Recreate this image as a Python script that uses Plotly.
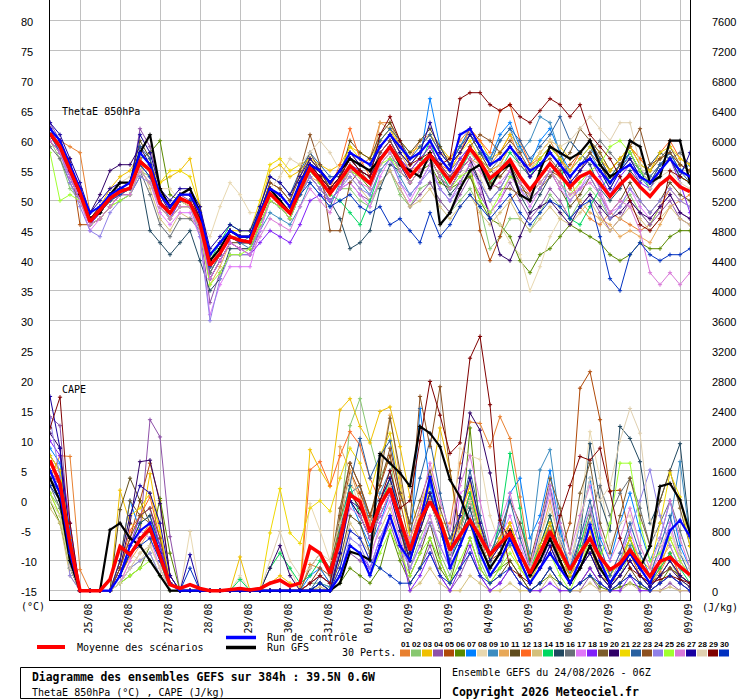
import plotly.graph_objects as go

# ---------------- data ----------------
HOURS = list(range(0, 385, 6))  # forecast hours from 24/08 06Z
DATES = ["25/08", "26/08", "27/08", "28/08", "29/08", "30/08", "31/08", "01/09",
         "02/09", "03/09", "04/09", "05/09", "06/09", "07/09", "08/09", "09/09"]
DATE_HOURS = [18, 42, 66, 90, 114, 138, 162, 186, 210, 234, 258, 282, 306, 330, 354, 378]
THETA_TICKS = [-15, -10, -5, 0, 5, 10, 15, 20, 25, 30, 35, 40, 45, 50, 55, 60, 65, 70, 75, 80]
CAPE_TICKS = [0, 400, 800, 1200, 1600, 2000, 2400, 2800, 3200, 3600, 4000, 4400, 4800,
              5200, 5600, 6000, 6400, 6800, 7200, 7600]
MEMBER_LABELS = ["01", "02", "03", "04", "05", "06", "07", "08", "09", "10",
                 "11", "12", "13", "14", "15", "16", "17", "18", "19", "20",
                 "21", "22", "23", "24", "25", "26", "27", "28", "29", "30"]
COLORS = ["#e88030", "#88c870", "#f0c000", "#8e50a8", "#b04a08", "#5a8a00", "#0080ff",
          "#e8d8b0", "#3c8cc0", "#e8a858", "#604c1c", "#ff6820", "#d4c07c", "#00d860",
          "#204860", "#687078", "#e078f8", "#8020f8", "#7c5c2c", "#300068", "#f0d800",
          "#2860a0", "#8c5020", "#9080e8", "#a0ff30", "#d878d8", "#1800a0", "#e0d0b0",
          "#800000", "#0030c0"]

# ThetaE 850 hPa (degC)
MEAN_T = [61.2, 59.0, 55.1, 51.3, 46.5, 48.4, 50.4, 51.5, 52.1, 56.5,
          55.1, 49.6, 47.9, 50.4, 49.6, 46.2, 39.2, 41.2, 44.0, 43.4,
          43.1, 47.3, 51.2, 49.5, 47.9, 51.8, 55.4, 53.4, 51.2, 53.4,
          55.8, 54.3, 52.9, 56.8, 59.0, 56.5, 54.0, 55.9, 57.6, 55.4,
          53.2, 55.7, 58.7, 56.5, 53.7, 55.1, 56.8, 54.0, 51.8, 54.0,
          56.2, 54.3, 52.3, 54.0, 54.8, 52.9, 50.7, 52.7, 54.3, 52.3,
          50.7, 52.7, 54.0, 52.3, 51.5]
CTL_T = [62, 60, 56, 52, 48, 49, 51, 52, 53, 58,
         56, 51, 49, 51, 51, 48, 41, 43, 45, 44,
         44, 48, 52, 51, 49, 53, 56, 55, 53, 55,
         58, 57, 56, 59, 61, 59, 57, 58, 60, 57,
         55, 61, 62, 59, 56, 57, 59, 57, 55, 56,
         58, 56, 54, 56, 57, 55, 53, 55, 56, 54,
         53, 55, 57, 55, 54]
GFS_T = [61, 59, 55, 51, 47, 48, 51, 53, 53, 58,
         61, 52, 49, 51, 52, 48, 40, 42, 45, 44,
         44, 48, 52, 50, 48, 53, 56, 55, 53, 55,
         57, 56, 55, 57, 59, 56, 55, 54, 58, 46,
         48, 52, 55, 56, 52, 55, 56, 51, 50, 55,
         59, 58, 57, 58, 60, 56, 54, 55, 60, 59,
         53, 54, 60, 60, 53]
T01 = [62, 60, 59, 58, 48, 49, 51, 52, 53, 58, 56, 51, 49, 51, 51, 47, 40, 42, 45, 44,
       44, 48, 52, 51, 49, 53, 57, 55, 52, 54, 58, 56, 57, 63, 63, 59, 57, 60, 61, 58,
       57, 60, 62, 59, 56, 58, 61, 57, 55, 58, 60, 57, 54, 49, 47, 46, 48, 47, 46, 45,
       46, 49, 52, 50, 51]
T02 = [60, 57, 52, 50, 46, 47, 49, 50, 51, 55, 54, 49, 47, 49, 49, 45, 37, 40, 43, 42,
       42, 46, 50, 49, 47, 51, 54, 52, 50, 52, 52, 50, 49, 53, 55, 51, 49, 52, 53, 50,
       48, 50, 52, 49, 42, 44, 47, 47, 45, 48, 51, 49, 47, 50, 52, 50, 47, 49, 51, 48,
       46, 49, 51, 48, 47]
T03 = [61, 59, 56, 52, 47, 49, 52, 54, 55, 58, 56, 53, 54, 55, 57, 49, 41, 43, 45, 44,
       44, 49, 55, 56, 54, 55, 57, 56, 55, 56, 59, 58, 57, 60, 62, 60, 58, 59, 61, 59,
       57, 59, 62, 60, 57, 58, 61, 59, 56, 58, 60, 59, 57, 58, 60, 58, 55, 57, 59, 57,
       55, 57, 58, 56, 55]
T04 = [63, 60, 56, 52, 46, 48, 50, 51, 52, 62, 59, 52, 48, 51, 50, 45, 33, 38, 41, 41,
       41, 45, 50, 49, 47, 51, 55, 53, 50, 52, 53, 51, 50, 53, 55, 52, 49, 51, 53, 50,
       48, 51, 54, 51, 48, 50, 53, 50, 47, 49, 52, 50, 47, 49, 51, 48, 45, 47, 50, 48,
       46, 48, 50, 47, 46]
T05 = [60, 58, 57, 46, 46, 47, 49, 51, 52, 56, 55, 50, 48, 50, 49, 46, 38, 41, 44, 43,
       43, 47, 51, 50, 48, 52, 55, 53, 51, 53, 56, 54, 53, 57, 59, 56, 54, 56, 57, 54,
       52, 55, 57, 45, 40, 44, 50, 52, 51, 53, 55, 54, 56, 58, 60, 57, 54, 56, 58, 55,
       53, 56, 57, 55, 54]
T06 = [60, 58, 55, 52, 47, 48, 50, 51, 52, 57, 58, 60, 51, 50, 49, 46, 39, 41, 44, 43,
       43, 47, 51, 50, 48, 51, 54, 52, 50, 52, 55, 54, 52, 56, 58, 55, 53, 55, 56, 53,
       52, 53, 54, 50, 47, 46, 44, 40, 38, 41, 42, 44, 46, 45, 44, 43, 41, 40, 41, 43,
       42, 42, 44, 45, 45]
T07 = [61, 59, 55, 51, 48, 49, 51, 52, 53, 57, 55, 50, 48, 50, 50, 46, 40, 42, 45, 44,
       44, 48, 52, 51, 49, 52, 56, 54, 52, 54, 57, 55, 54, 58, 60, 57, 55, 57, 67, 59,
       56, 59, 62, 59, 57, 61, 63, 59, 56, 60, 62, 58, 55, 57, 59, 56, 53, 55, 58, 55,
       54, 56, 58, 55, 56]
T08 = [59, 57, 54, 50, 47, 48, 51, 53, 54, 56, 54, 52, 52, 50, 49, 47, 44, 49, 53, 51,
       48, 48, 51, 50, 48, 52, 55, 53, 51, 53, 56, 54, 53, 56, 58, 56, 54, 55, 57, 54,
       52, 54, 56, 54, 50, 46, 43, 41, 35, 39, 44, 47, 50, 53, 55, 53, 51, 53, 54, 52,
       51, 53, 54, 52, 52]
T09 = [62, 59, 55, 51, 46, 48, 50, 52, 52, 57, 55, 50, 47, 50, 50, 46, 38, 41, 44, 43,
       42, 45, 48, 47, 46, 49, 53, 51, 49, 53, 55, 53, 51, 55, 57, 54, 51, 53, 56, 52,
       50, 53, 56, 58, 57, 60, 62, 58, 60, 64, 63, 58, 54, 56, 58, 55, 52, 55, 57, 54,
       52, 55, 57, 54, 53]
T10 = [61, 58, 54, 50, 46, 47, 49, 51, 52, 56, 54, 49, 47, 49, 49, 45, 36, 39, 43, 42,
       42, 46, 50, 49, 47, 51, 54, 53, 51, 53, 56, 55, 54, 63, 62, 58, 55, 56, 58, 55,
       53, 55, 57, 56, 53, 54, 56, 54, 52, 54, 56, 54, 52, 50, 48, 47, 46, 44, 45, 44,
       43, 46, 49, 50, 49]
T11 = [62, 60, 56, 52, 47, 48, 50, 52, 53, 60, 57, 51, 49, 50, 50, 46, 37, 40, 43, 43,
       43, 47, 51, 50, 48, 53, 57, 55, 52, 54, 60, 58, 57, 61, 63, 60, 58, 60, 62, 59,
       56, 58, 61, 58, 55, 54, 56, 53, 50, 52, 55, 52, 49, 51, 54, 51, 48, 50, 53, 50,
       48, 50, 53, 51, 50]
T12 = [61, 59, 55, 51, 47, 48, 50, 52, 52, 57, 55, 50, 48, 50, 50, 47, 40, 42, 45, 44,
       44, 48, 52, 51, 49, 53, 56, 54, 52, 56, 62, 57, 54, 58, 60, 57, 55, 57, 59, 56,
       55, 58, 62, 60, 58, 65, 66, 60, 56, 57, 59, 57, 55, 58, 60, 57, 55, 57, 59, 57,
       55, 58, 60, 57, 56]
T13 = [60, 58, 54, 51, 47, 48, 50, 51, 52, 56, 52, 47, 45, 48, 47, 46, 39, 41, 44, 44,
       44, 48, 51, 50, 48, 52, 55, 53, 51, 53, 54, 52, 50, 53, 55, 52, 49, 50, 52, 49,
       47, 49, 51, 48, 46, 48, 50, 47, 45, 47, 49, 47, 46, 48, 50, 47, 45, 47, 49, 47,
       45, 47, 49, 47, 46]
T14 = [61, 59, 55, 51, 47, 48, 50, 52, 52, 56, 54, 50, 48, 50, 50, 47, 40, 43, 46, 45,
       45, 48, 51, 50, 48, 52, 55, 53, 51, 50, 48, 46, 50, 55, 57, 56, 54, 56, 60, 55,
       52, 55, 58, 56, 53, 55, 58, 56, 54, 57, 59, 57, 47, 46, 49, 52, 54, 56, 58, 55,
       52, 55, 57, 54, 53]
T15 = [60, 58, 54, 50, 46, 47, 49, 51, 51, 54, 45, 43, 41, 43, 45, 40, 35, 37, 42, 42,
       42, 46, 50, 49, 47, 51, 54, 52, 50, 47, 42, 43, 45, 52, 56, 55, 53, 55, 57, 54,
       51, 53, 56, 53, 50, 52, 55, 51, 48, 51, 54, 57, 60, 58, 56, 52, 50, 52, 55, 53,
       56, 58, 57, 55, 54]
T16 = [59, 57, 53, 50, 46, 48, 50, 51, 52, 55, 51, 46, 44, 47, 47, 45, 38, 41, 44, 43,
       43, 47, 51, 50, 48, 52, 56, 54, 52, 54, 57, 56, 55, 59, 61, 58, 56, 58, 60, 57,
       55, 57, 59, 57, 55, 57, 59, 56, 54, 56, 58, 56, 54, 56, 58, 60, 58, 56, 57, 55,
       54, 56, 57, 58, 56]
T17 = [60, 58, 54, 50, 45, 47, 49, 51, 52, 55, 53, 48, 46, 48, 48, 44, 31, 36, 39, 39,
       39, 45, 50, 49, 47, 51, 54, 52, 50, 52, 53, 51, 49, 54, 57, 53, 50, 53, 56, 52,
       50, 53, 56, 52, 48, 50, 54, 52, 49, 52, 55, 52, 50, 52, 55, 52, 48, 49, 52, 49,
       47, 49, 51, 48, 47]
T18 = [61, 58, 54, 50, 46, 48, 51, 52, 53, 56, 54, 49, 47, 50, 50, 46, 37, 40, 43, 42,
       41, 43, 45, 44, 43, 46, 50, 51, 50, 52, 56, 55, 54, 58, 60, 57, 55, 57, 59, 56,
       54, 57, 59, 57, 55, 56, 59, 57, 54, 56, 58, 56, 53, 55, 57, 54, 51, 54, 56, 53,
       52, 55, 57, 53, 48]
T19 = [62, 60, 56, 52, 47, 49, 51, 52, 53, 58, 56, 51, 49, 51, 51, 47, 40, 42, 45, 44,
       44, 48, 53, 52, 50, 54, 58, 55, 52, 54, 57, 55, 54, 58, 60, 57, 54, 56, 58, 55,
       53, 56, 59, 57, 53, 52, 52, 51, 50, 52, 54, 56, 58, 62, 60, 58, 55, 57, 59, 56,
       55, 57, 59, 56, 55]
T20 = [62, 59, 55, 52, 48, 51, 55, 56, 56, 59, 56, 51, 48, 50, 50, 47, 41, 43, 45, 44,
       44, 48, 52, 51, 49, 53, 56, 54, 52, 54, 57, 55, 54, 57, 59, 56, 53, 55, 57, 54,
       52, 55, 57, 53, 47, 41, 40, 44, 48, 49, 50, 48, 46, 49, 51, 49, 47, 48, 50, 48,
       47, 49, 51, 48, 47]
T21 = [61, 59, 55, 51, 47, 48, 50, 51, 52, 56, 55, 53, 55, 55, 54, 49, 41, 43, 45, 45,
       45, 50, 56, 57, 55, 56, 57, 55, 53, 55, 59, 57, 56, 60, 62, 59, 56, 58, 60, 57,
       55, 58, 60, 57, 55, 56, 59, 57, 55, 57, 59, 57, 55, 57, 59, 57, 55, 57, 59, 56,
       55, 58, 59, 57, 56]
T22 = [61, 58, 55, 51, 47, 48, 50, 52, 52, 59, 57, 50, 48, 50, 50, 46, 39, 41, 44, 43,
       44, 49, 54, 53, 51, 55, 58, 56, 54, 54, 58, 57, 56, 60, 62, 60, 57, 59, 61, 58,
       56, 59, 61, 58, 56, 60, 62, 60, 57, 59, 61, 64, 60, 58, 60, 57, 54, 56, 58, 55,
       53, 56, 58, 55, 53]
T23 = [62, 60, 56, 52, 47, 48, 50, 52, 53, 58, 56, 51, 49, 50, 50, 46, 39, 41, 44, 43,
       43, 48, 53, 52, 50, 55, 61, 56, 45, 45, 53, 55, 53, 57, 59, 56, 54, 56, 58, 56,
       54, 56, 59, 61, 60, 58, 60, 58, 55, 56, 57, 55, 52, 55, 58, 56, 53, 56, 59, 62,
       56, 57, 58, 56, 55]
T24 = [63, 58, 53, 49, 45, 44, 48, 50, 51, 54, 53, 49, 47, 49, 49, 44, 30, 37, 41, 41,
       41, 46, 50, 49, 47, 51, 54, 52, 50, 52, 54, 52, 51, 55, 57, 53, 51, 53, 55, 52,
       50, 52, 55, 53, 50, 52, 55, 52, 50, 52, 55, 53, 50, 52, 54, 51, 47, 49, 52, 50,
       48, 50, 52, 50, 49]
T25 = [58, 50, 51, 50, 46, 47, 49, 50, 51, 55, 53, 49, 47, 49, 49, 45, 36, 38, 41, 41,
       42, 46, 50, 49, 47, 51, 55, 53, 51, 53, 55, 54, 53, 56, 57, 55, 53, 55, 57, 54,
       52, 54, 55, 50, 48, 51, 54, 53, 51, 53, 55, 53, 51, 53, 55, 56, 59, 60, 58, 55,
       53, 55, 57, 54, 53]
T26 = [60, 58, 54, 50, 46, 47, 49, 51, 51, 55, 53, 49, 47, 49, 49, 45, 37, 40, 43, 42,
       41, 44, 47, 46, 45, 49, 52, 50, 48, 52, 55, 53, 52, 56, 58, 55, 53, 55, 57, 54,
       52, 55, 57, 55, 52, 53, 55, 53, 51, 53, 55, 53, 51, 52, 53, 51, 48, 50, 49, 45,
       38, 36, 38, 36, 38]
T27 = [63, 61, 57, 53, 48, 50, 52, 53, 53, 61, 58, 52, 50, 52, 52, 49, 42, 44, 46, 45,
       45, 49, 54, 53, 51, 54, 57, 55, 53, 55, 58, 56, 55, 59, 61, 58, 56, 58, 63, 58,
       56, 58, 61, 59, 56, 57, 59, 57, 54, 56, 58, 56, 53, 55, 57, 55, 52, 55, 57, 54,
       53, 55, 57, 54, 58]
T28 = [61, 59, 55, 51, 47, 48, 50, 51, 52, 56, 54, 50, 48, 50, 50, 46, 39, 41, 44, 43,
       43, 48, 52, 54, 57, 56, 58, 60, 58, 55, 56, 54, 53, 57, 59, 56, 54, 56, 58, 55,
       53, 56, 58, 56, 54, 56, 57, 56, 55, 58, 60, 59, 60, 62, 64, 62, 60, 63, 63, 56,
       52, 54, 55, 53, 52]
T29 = [62, 60, 56, 52, 47, 49, 51, 52, 53, 58, 56, 51, 49, 51, 51, 47, 40, 42, 45, 44,
       44, 48, 52, 51, 49, 53, 56, 54, 52, 54, 57, 55, 54, 61, 64, 60, 56, 57, 58, 56,
       57, 67, 68, 68, 66, 65, 66, 64, 63, 65, 67, 66, 64, 66, 61, 59, 57, 54, 50, 46,
       45, 47, 55, 54, 53]
T30 = [61, 59, 55, 51, 47, 48, 50, 51, 52, 56, 54, 50, 48, 50, 50, 46, 39, 41, 44, 43,
       43, 47, 51, 50, 48, 51, 53, 51, 49, 50, 51, 49, 48, 49, 46, 47, 45, 43, 48, 44,
       46, 49, 51, 49, 47, 49, 51, 48, 46, 48, 50, 49, 47, 49, 50, 44, 37, 35, 41, 43,
       41, 40, 41, 41, 42]

# CAPE (J/kg)
MEAN_C = [1740, 1430, 630, 0, 0, 0, 150, 590, 480, 680,
          830, 450, 80, 30, 80, 30, 0, 0, 10, 30,
          10, 30, 100, 140, 60, 100, 590, 500, 230, 680,
          1280, 1190, 780, 1140, 1365, 940, 540, 940, 1190, 940,
          540, 740, 940, 720, 480, 630, 765, 500, 230, 500,
          790, 540, 280, 500, 700, 450, 280, 365, 540, 365,
          190, 390, 445, 320, 210]
CTL_C = [1600, 1300, 500, 0, 0, 0, 0, 200, 600, 800, 900, 500, 100, 0, 0, 0,
         0, 0, 0, 0, 0, 0, 0, 0, 0, 0, 0, 0, 0, 200, 600, 500, 200, 600, 1000, 600,
         400, 900, 1520, 900, 300, 600, 940, 500, 200, 400, 700, 400, 100, 300, 500, 300,
         100, 400, 880, 400, 100, 300, 500, 300, 100, 400, 800, 940, 720]
GFS_C = [1500, 1200, 400, 0, 0, 0, 810, 900, 700, 600, 400, 200, 0, 0, 0, 0,
         0, 0, 0, 0, 0, 0, 0, 0, 0, 0, 0, 0, 0, 100, 520, 480, 410, 1830, 1700, 1570,
         1390, 2190, 2100, 1920, 1480, 1250, 900, 600, 300, 500, 800, 500, 200, 400, 700, 400,
         100, 300, 600, 300, 100, 300, 500, 300, 590, 1390, 1430, 1210, 770]
C01 = [1500, 1800, 1790, 280, 0, 0, 0, 200, 450, 700, 900, 600, 100, 0, 0, 0,
       0, 0, 0, 0, 0, 0, 0, 0, 0, 0, 350, 300, 100, 800, 1400, 1300, 900, 1200, 1500, 900,
       400, 900, 1300, 900, 900, 1700, 2250, 2230, 1920, 2320, 2030, 1250, 400, 600, 900, 500,
       200, 400, 700, 300, 100, 300, 600, 300, 100, 250, 500, 200, 100]
C02 = [1300, 1100, 400, 0, 0, 0, 0, 100, 300, 400, 500, 200, 0, 0, 0, 0,
       0, 0, 0, 0, 0, 0, 0, 0, 0, 0, 100, 100, 50, 900, 2200, 2560, 2000, 1500, 1800, 800,
       300, 700, 1000, 500, 200, 600, 900, 400, 100, 300, 700, 400, 100, 500, 900, 400,
       100, 300, 600, 200, 50, 200, 500, 200, 50, 200, 400, 150, 50]
C03 = [1700, 1600, 700, 0, 0, 0, 0, 1340, 900, 800, 1560, 800, 100, 0, 0, 0,
       0, 0, 0, 450, 0, 0, 100, 200, 100, 50, 1880, 1610, 1390, 2410, 2560, 2190, 1970, 2390, 2450, 1920,
       1250, 800, 1400, 2170, 1600, 700, 900, 500, 200, 400, 600, 300, 100, 400, 700, 300,
       100, 300, 500, 200, 100, 300, 700, 400, 200, 300, 700, 400, 200]
C04 = [2320, 2200, 600, 0, 0, 0, 0, 200, 600, 800, 2280, 2050, 720, 0, 0, 0,
       0, 0, 0, 0, 0, 0, 0, 0, 0, 0, 0, 0, 0, 200, 500, 400, 300, 600, 900, 500,
       100, 300, 600, 200, 0, 200, 500, 200, 0, 100, 300, 100, 0, 100, 300, 100,
       0, 0, 200, 0, 0, 100, 200, 100, 0, 0, 100, 0, 0]
C05 = [1600, 1400, 500, 0, 0, 0, 0, 300, 700, 1200, 1700, 1200, 200, 0, 0, 0,
       0, 0, 0, 0, 0, 0, 0, 0, 0, 0, 100, 200, 100, 900, 1600, 1300, 1000, 1400, 1800, 1200,
       600, 1000, 1500, 900, 600, 900, 1300, 800, 400, 500, 800, 500, 200, 500, 900, 500,
       900, 2700, 2920, 2280, 1330, 1340, 700, 300, 100, 200, 400, 200, 100]
C06 = [1200, 900, 300, 0, 0, 0, 0, 100, 200, 300, 600, 1230, 500, 0, 0, 0,
       0, 0, 0, 0, 0, 0, 0, 0, 0, 0, 0, 0, 0, 100, 300, 200, 100, 300, 800, 400,
       100, 300, 700, 300, 100, 600, 2170, 800, 200, 300, 400, 200, 0, 100, 200, 100,
       0, 100, 200, 50, 0, 50, 100, 50, 0, 100, 300, 200, 100]
C07 = [1900, 1700, 800, 0, 0, 0, 0, 400, 1200, 800, 900, 600, 100, 0, 0, 0,
       0, 0, 0, 0, 0, 0, 0, 0, 0, 0, 200, 300, 100, 600, 1200, 900, 600, 900, 1300, 800,
       500, 2430, 1400, 800, 400, 800, 1200, 700, 300, 500, 1300, 1500, 700, 1000, 1600, 800,
       300, 900, 1500, 700, 400, 900, 1300, 800, 400, 700, 1200, 600, 300]
C08 = [1400, 1200, 500, 0, 0, 0, 0, 200, 500, 400, 600, 300, 0, 0, 790, 0,
       0, 0, 0, 200, 0, 0, 300, 500, 300, 0, 1160, 800, 400, 1000, 1500, 1100, 700, 1000, 1300, 900,
       400, 800, 1200, 800, 500, 1900, 1800, 1750, 1000, 600, 800, 500, 200, 600, 1000, 500,
       200, 1000, 2120, 1500, 600, 900, 1000, 600, 300, 500, 800, 400, 200]
C09 = [1500, 1300, 400, 0, 0, 0, 0, 200, 600, 900, 1000, 500, 100, 0, 0, 0,
       0, 0, 0, 0, 0, 0, 0, 0, 0, 0, 0, 100, 50, 700, 1300, 1400, 900, 1300, 1600, 1000,
       500, 900, 1300, 800, 400, 700, 1100, 600, 300, 1000, 600, 900, 500, 1610, 1880, 900,
       200, 500, 900, 400, 100, 300, 600, 300, 100, 400, 900, 1720, 700]
C10 = [1300, 1000, 300, 0, 0, 0, 0, 100, 400, 600, 800, 500, 100, 0, 0, 0,
       0, 0, 0, 0, 0, 0, 0, 0, 0, 0, 100, 200, 100, 1920, 1600, 1200, 900, 1600, 2340, 1500,
       700, 1000, 1200, 800, 500, 900, 1300, 700, 300, 500, 900, 500, 200, 700, 1200, 600,
       300, 600, 1000, 500, 200, 400, 700, 400, 200, 400, 600, 300, 200]
C11 = [1800, 1600, 700, 0, 0, 0, 0, 1080, 1500, 1200, 900, 500, 100, 0, 0, 0,
       0, 0, 0, 0, 0, 0, 0, 0, 0, 0, 0, 100, 0, 400, 1000, 900, 500, 1100, 1400, 900,
       200, 500, 900, 400, 100, 300, 700, 300, 100, 200, 400, 200, 0, 100, 300, 100,
       0, 100, 300, 100, 0, 100, 300, 100, 0, 100, 200, 100, 0]
C12 = [1700, 1500, 600, 0, 0, 0, 0, 300, 800, 1000, 1250, 700, 100, 0, 0, 0,
       0, 0, 0, 0, 0, 0, 0, 0, 0, 0, 1610, 1720, 1400, 1800, 2120, 1940, 1500, 1200, 1400, 900,
       500, 900, 1300, 900, 600, 1000, 1400, 800, 400, 600, 900, 500, 200, 500, 900, 400,
       200, 500, 800, 400, 100, 300, 500, 200, 100, 300, 500, 200, 100]
C13 = [1100, 900, 200, 0, 0, 0, 0, 100, 300, 500, 600, 300, 0, 0, 0, 0,
       0, 0, 0, 0, 0, 0, 0, 0, 0, 0, 0, 50, 0, 300, 900, 700, 500, 800, 1100, 700,
       0, 100, 300, 100, 0, 0, 200, 100, 0, 0, 100, 0, 0, 0, 200, 0,
       0, 0, 100, 0, 0, 0, 100, 0, 0, 0, 50, 0, 0]
C14 = [1500, 1200, 300, 0, 0, 0, 0, 200, 500, 700, 800, 400, 0, 0, 0, 0,
       0, 0, 0, 150, 0, 0, 300, 500, 300, 100, 200, 400, 300, 900, 1400, 1000, 700, 1100, 1500, 1000,
       500, 900, 1300, 900, 500, 800, 1300, 800, 400, 900, 1830, 1100, 300, 600, 1000, 500,
       200, 600, 1100, 500, 200, 400, 700, 300, 100, 300, 500, 300, 100]
C15 = [1600, 1400, 500, 0, 0, 0, 0, 200, 600, 900, 1000, 600, 100, 0, 0, 0,
       0, 0, 0, 0, 0, 0, 0, 0, 0, 0, 0, 100, 0, 600, 1200, 1000, 700, 1100, 1400, 900,
       400, 800, 1200, 800, 400, 700, 1100, 600, 300, 500, 800, 500, 200, 600, 1000, 500,
       200, 700, 1960, 1200, 800, 2190, 2030, 1720, 900, 1200, 1600, 1960, 760]
C16 = [1400, 1100, 300, 0, 0, 0, 0, 200, 500, 700, 800, 400, 0, 0, 0, 0,
       0, 0, 0, 0, 0, 0, 0, 0, 0, 0, 100, 200, 100, 700, 1300, 1100, 800, 1200, 1500, 1000,
       500, 900, 1300, 900, 500, 800, 1200, 700, 300, 500, 800, 500, 200, 500, 900, 500,
       200, 500, 1000, 1400, 1000, 1300, 1500, 1100, 600, 900, 1200, 800, 400]
C17 = [1500, 1300, 500, 0, 0, 0, 0, 100, 400, 800, 700, 300, 0, 0, 0, 0,
       0, 0, 0, 0, 0, 0, 0, 0, 0, 0, 0, 0, 0, 300, 800, 700, 400, 900, 1200, 700,
       300, 600, 1000, 600, 300, 1300, 1400, 900, 500, 700, 1000, 600, 300, 800, 1300, 700,
       300, 700, 1100, 600, 200, 500, 800, 400, 200, 500, 900, 400, 200]
C18 = [2000, 1800, 900, 0, 0, 0, 0, 200, 600, 1000, 1100, 600, 100, 0, 0, 0,
       0, 0, 0, 0, 0, 0, 0, 0, 0, 0, 0, 0, 0, 200, 600, 500, 300, 700, 1000, 600,
       0, 200, 500, 200, 0, 300, 600, 200, 0, 100, 300, 100, 0, 0, 100, 0,
       0, 100, 300, 100, 0, 0, 200, 0, 0, 100, 200, 100, 0]
C19 = [1700, 1500, 600, 0, 0, 0, 0, 400, 1200, 1000, 900, 500, 100, 0, 0, 0,
       0, 0, 0, 0, 0, 0, 0, 0, 0, 0, 300, 500, 300, 1100, 1700, 1400, 1000, 1500, 2300, 1600,
       800, 1200, 1600, 1100, 700, 1000, 1500, 900, 500, 700, 1200, 900, 400, 900, 1500, 1100,
       500, 1300, 1700, 900, 500, 1000, 1500, 1000, 600, 1200, 1600, 1100, 600]
C20 = [2100, 1900, 700, 0, 0, 0, 0, 300, 900, 1720, 1740, 1160, 200, 0, 0, 0,
       0, 0, 0, 0, 0, 0, 300, 600, 200, 0, 0, 0, 0, 500, 1200, 1000, 700, 1000, 1300, 800,
       400, 800, 1200, 800, 500, 1500, 2370, 2140, 1570, 900, 700, 400, 100, 300, 600, 300,
       100, 300, 500, 200, 50, 200, 400, 200, 50, 200, 300, 150, 50]
C21 = [1800, 1600, 700, 0, 0, 0, 0, 400, 1000, 1100, 1300, 800, 100, 0, 0, 0,
       0, 0, 0, 0, 0, 0, 770, 1360, 770, 630, 1100, 1200, 1060, 1500, 1900, 1700, 1300, 1800, 2100, 1400,
       700, 1100, 1500, 1000, 600, 1000, 1400, 800, 400, 700, 900, 500, 200, 600, 900, 500,
       200, 500, 800, 400, 200, 400, 700, 400, 300, 900, 1570, 1250, 590]
C22 = [1500, 1300, 400, 0, 0, 0, 0, 200, 500, 700, 800, 500, 100, 0, 0, 0,
       0, 0, 0, 0, 0, 0, 0, 0, 0, 0, 0, 200, 100, 800, 1400, 2030, 1500, 1800, 2000, 1300,
       900, 1500, 2000, 1300, 700, 1000, 1600, 1000, 500, 800, 1200, 700, 300, 800, 1400, 700,
       300, 700, 1200, 600, 200, 500, 900, 500, 200, 600, 1000, 500, 200]
C23 = [1600, 1400, 500, 0, 0, 0, 0, 300, 700, 1000, 1100, 700, 100, 0, 0, 0,
       0, 0, 0, 0, 0, 0, 0, 0, 0, 0, 100, 300, 200, 1000, 1700, 1400, 1000, 1400, 1900, 1300,
       900, 2590, 1920, 2720, 1600, 800, 1200, 700, 300, 500, 800, 500, 200, 400, 800, 400,
       100, 300, 600, 200, 100, 200, 400, 200, 100, 200, 300, 200, 100]
C24 = [2300, 1500, 200, 0, 0, 0, 0, 100, 300, 400, 500, 200, 0, 0, 0, 0,
       0, 0, 0, 0, 0, 0, 0, 0, 0, 0, 0, 0, 0, 200, 700, 600, 300, 700, 1000, 600,
       300, 600, 900, 600, 300, 600, 1000, 500, 200, 400, 700, 400, 100, 300, 700, 300,
       100, 300, 600, 300, 100, 400, 800, 1200, 1610, 1000, 600, 300, 200]
C25 = [1300, 1000, 300, 0, 0, 0, 0, 100, 200, 300, 400, 200, 0, 0, 0, 0,
       0, 0, 0, 0, 0, 0, 0, 0, 0, 0, 0, 0, 0, 200, 600, 500, 200, 500, 800, 500,
       200, 500, 700, 400, 100, 400, 700, 300, 100, 300, 500, 300, 100, 300, 500, 200,
       0, 300, 700, 400, 900, 1700, 1700, 900, 400, 500, 700, 400, 200]
C26 = [1600, 1400, 500, 0, 0, 0, 0, 200, 600, 800, 900, 500, 100, 0, 0, 0,
       0, 0, 0, 0, 0, 0, 0, 0, 0, 0, 100, 200, 100, 600, 1100, 1000, 700, 1000, 1300, 900,
       700, 1100, 1700, 1200, 800, 1400, 1800, 1200, 600, 900, 1300, 800, 300, 900, 1400, 900,
       500, 1000, 1400, 800, 400, 700, 1100, 600, 300, 700, 1200, 700, 300]
C27 = [2590, 1900, 300, 0, 0, 0, 0, 400, 1000, 1400, 1300, 900, 200, 0, 480, 0,
       0, 0, 0, 0, 0, 0, 0, 0, 0, 0, 0, 100, 0, 500, 1200, 1100, 800, 1200, 1500, 1000,
       500, 900, 1300, 900, 500, 1000, 1500, 900, 400, 600, 800, 400, 100, 300, 600, 300,
       100, 300, 500, 200, 50, 200, 400, 200, 50, 200, 400, 200, 100]
C28 = [1200, 1000, 300, 0, 0, 0, 0, 100, 300, 500, 600, 300, 0, 0, 0, 0,
       0, 0, 0, 0, 0, 0, 400, 790, 400, 200, 300, 500, 400, 900, 1300, 1100, 800, 1100, 1400, 1000,
       600, 900, 1200, 800, 500, 800, 1200, 700, 300, 500, 800, 500, 300, 700, 1100, 700,
       400, 900, 1500, 1200, 1400, 2000, 2430, 2100, 940, 600, 800, 500, 300]
C29 = [2170, 2580, 900, 0, 0, 0, 0, 200, 500, 700, 800, 500, 100, 0, 0, 0,
       0, 0, 0, 0, 0, 0, 0, 0, 0, 0, 100, 200, 100, 700, 1300, 1100, 800, 1200, 1600, 1100,
       1200, 2000, 2790, 2340, 1830, 1970, 3100, 3390, 2480, 940, 300, 200, 100, 300, 500, 1000,
       1400, 1790, 1740, 1900, 1320, 700, 300, 200, 100, 150, 200, 150, 100]
C30 = [1400, 1200, 400, 0, 0, 0, 0, 200, 500, 600, 700, 400, 100, 0, 300, 0,
       0, 0, 0, 0, 0, 0, 0, 0, 0, 0, 0, 100, 0, 300, 800, 700, 400, 300, 200, 100,
       100, 300, 500, 200, 100, 300, 500, 200, 100, 200, 300, 100, 0, 100, 300, 100,
       0, 100, 200, 100, 0, 100, 200, 100, 0, 100, 200, 100, 0]

THETA_MEMBERS = [T01, T02, T03, T04, T05, T06, T07, T08, T09, T10, T11, T12, T13, T14, T15,
                 T16, T17, T18, T19, T20, T21, T22, T23, T24, T25, T26, T27, T28, T29, T30]
CAPE_MEMBERS = [C01, C02, C03, C04, C05, C06, C07, C08, C09, C10, C11, C12, C13, C14, C15,
                C16, C17, C18, C19, C20, C21, C22, C23, C24, C25, C26, C27, C28, C29, C30]

# ---------------- figure ----------------
W, H = 740, 700
ML, MR, MT_, MB = 50, 50, 0, 100


def PX(px):
    return (px - ML) / (W - ML - MR)


def PY(py):
    return (H - MB - py) / (H - MT_ - MB)


MONO = "DejaVu Sans Mono"
SANS = "Liberation Sans"

fig = go.Figure()


def add_series(y, color, width, yaxis, markers=True):
    fig.add_trace(go.Scatter(
        x=HOURS, y=y, yaxis=yaxis,
        mode="lines+markers" if markers else "lines",
        line=dict(color=color, width=width),
        marker=dict(symbol="cross-thin", size=3, color=color, line=dict(color=color, width=1)),
        hoverinfo="skip", showlegend=False))


for k in range(30):
    add_series(THETA_MEMBERS[k], COLORS[k], 1, "y")
    add_series(CAPE_MEMBERS[k], COLORS[k], 1, "y2")

add_series(GFS_T, "#000000", 2.2, "y")
add_series(GFS_C, "#000000", 2.2, "y2")
add_series(CTL_T, "#0000ff", 2.2, "y")
add_series(CTL_C, "#0000ff", 2.2, "y2")
add_series(MEAN_T, "#ff0000", 3.5, "y", markers=False)
add_series(MEAN_C, "#ff0000", 3.5, "y2", markers=False)

grid = "#c0c0c0"
fig.update_layout(
    width=W, height=H,
    margin=dict(l=ML, r=MR, t=MT_, b=MB, pad=0),
    plot_bgcolor="white", paper_bgcolor="white",
    showlegend=False,
    xaxis=dict(range=[0, 384], tickvals=DATE_HOURS, showticklabels=False, ticks="",
               showgrid=True, gridcolor=grid, gridwidth=1, zeroline=False,
               showline=True, linecolor="black", linewidth=1),
    yaxis=dict(range=[-16.55, 83.45], tickvals=THETA_TICKS, showticklabels=False, ticks="",
               showgrid=True, gridcolor=grid, gridwidth=1, zeroline=False,
               showline=True, linecolor="black", linewidth=1),
    yaxis2=dict(range=[-124, 7876], overlaying="y", side="right", showgrid=False,
                showticklabels=False, ticks="", zeroline=False,
                showline=True, linecolor="black", linewidth=1),
)

ann = []
for v in THETA_TICKS:
    ann.append(dict(x=PX(19), xref="paper", y=v, yref="y", xanchor="left", yanchor="middle",
                    text=str(v), showarrow=False, yshift=-1,
                    font=dict(family=SANS, size=11, color="black")))
for c in CAPE_TICKS:
    ann.append(dict(x=PX(710), xref="paper", y=c, yref="y2", xanchor="left", yanchor="middle",
                    text=str(c), showarrow=False, yshift=-1,
                    font=dict(family=SANS, size=11, color="black")))
for h, d in zip(DATE_HOURS, DATES):
    ann.append(dict(x=h + 4.5, xref="x", y=PY(602), yref="paper", xanchor="center", yanchor="top",
                    text=d, textangle=-90, showarrow=False,
                    font=dict(family=MONO, size=10, color="black")))


def txt(px, py, s, size=10, bold=False, anchor="left", family=MONO):
    ann.append(dict(x=PX(px), xref="paper", y=PY(py), yref="paper", xanchor=anchor,
                    yanchor="middle", text=("<b>%s</b>" % s) if bold else s, showarrow=False,
                    font=dict(family=family, size=size, color="black")))


txt(60, 112, "ThetaE 850hPa")
txt(60, 389, "CAPE")
txt(19, 606, "(°C)")
txt(700, 607, "(J/kg)")
txt(75, 647, "Moyenne des scénarios")
txt(265, 637, "Run de contrôle")
txt(265, 647, "Run GFS")
txt(340, 652, "30 Perts.")
txt(30, 677, "Diagramme des ensembles GEFS sur 384h : 39.5N 0.6W", size=11.4, bold=True)
txt(30, 692, "ThetaE 850hPa (°C) , CAPE (J/kg)")
txt(450, 672, "Ensemble GEFS du 24/08/2026 - 06Z")
txt(450, 692, "Copyright 2026 Meteociel.fr", size=11.5, bold=True)

shapes = []
shapes.append(dict(type="line", xref="paper", yref="paper", x0=PX(37), x1=PX(65),
                   y0=PY(647), y1=PY(647), line=dict(color="#ff0000", width=4)))
shapes.append(dict(type="line", xref="paper", yref="paper", x0=PX(226), x1=PX(256),
                   y0=PY(637.5), y1=PY(637.5), line=dict(color="#0000ff", width=3.5)))
shapes.append(dict(type="line", xref="paper", yref="paper", x0=PX(226), x1=PX(256),
                   y0=PY(647.5), y1=PY(647.5), line=dict(color="#000000", width=3.5)))
for k in range(30):
    x0 = 400 + 11 * k
    shapes.append(dict(type="rect", xref="paper", yref="paper", x0=PX(x0), x1=PX(x0 + 10),
                       y0=PY(656.5), y1=PY(649.5), line=dict(width=0), fillcolor=COLORS[k]))
    ann.append(dict(x=PX(x0 + 5), xref="paper", y=PY(644), yref="paper", xanchor="center",
                    yanchor="middle", text="<b>%s</b>" % MEMBER_LABELS[k], showarrow=False,
                    font=dict(family=SANS, size=8, color="black")))
shapes.append(dict(type="rect", xref="paper", yref="paper", x0=PX(20.5), x1=PX(440.5),
                   y0=PY(698.5), y1=PY(667.5), line=dict(color="black", width=1),
                   fillcolor="rgba(0,0,0,0)"))

fig.update_layout(annotations=ann, shapes=shapes)
fig.write_html("out.html", config={"displayModeBar": False},
               post_script="document.body.style.margin='0px';document.body.style.padding='0px';")
